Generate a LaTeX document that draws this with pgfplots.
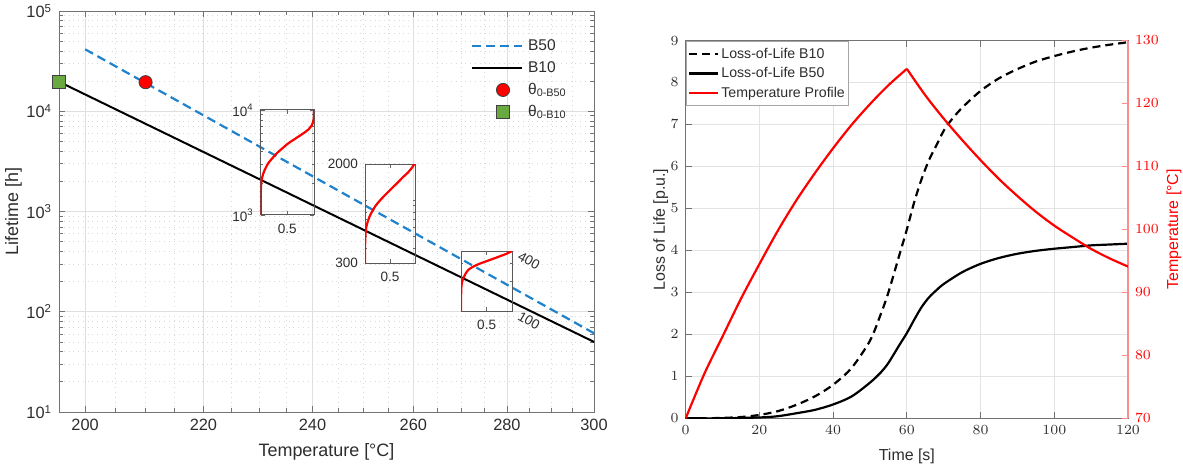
\documentclass[border=0pt]{standalone}
\usepackage{fontspec}
\setmainfont{Liberation Sans}
\usepackage{pgfplots}
\pgfplotsset{compat=1.18}

\definecolor{bblue}{RGB}{30,130,205}
\definecolor{sqgreen}{RGB}{106,168,64}
\definecolor{axgray}{RGB}{115,115,115}
\definecolor{txtgray}{RGB}{45,45,45}

\pgfplotsset{
  insetax/.style={
    anchor=south west, scale only axis,
    xmin=0, xmax=1,
    xtick={0,0.5,1}, xticklabels={,0.5,},
    tick align=inside, tick pos=both,
    axis line style={black!65, line width=0.5bp},
    tick style={black!60, line width=0.4bp},
    major tick length=2bp, minor tick length=1.2bp,
    ticklabel style={font=\fontsize{6.8}{8}\selectfont, text=txtgray},
    xticklabel style={yshift=-1bp},
  }
}

\begin{document}
\begin{tikzpicture}
\path[use as bounding box] (0,0) rectangle (591.5bp,-233bp);

% ---------------- left chart ----------------
\begin{axis}[
  at={(29.5bp,-206bp)}, anchor=south west,
  scale only axis, width=267.5bp, height=200.5bp,
  x coord trafo/.code={\pgfmathparse{-1000/(#1+273.15)}},
  x coord inv trafo/.code={\pgfmathparse{-1000/(#1)-273.15}},
  xmin=195.8, xmax=300,
  xtick={200,220,240,260,280,300},
  xticklabels={200,220,240,260,280,300},
  minor xtick={205,210,215,225,230,235,245,250,255,265,270,275,285,290,295},
  ymode=log, ymin=10, ymax=100000,
  ytick={10,100,1000,10000,100000},
  yticklabels={10\textsuperscript{1},10\textsuperscript{2},10\textsuperscript{3},10\textsuperscript{4},10\textsuperscript{5}},
  grid=both,
  major grid style={gray!25, line width=0.4bp},
  minor grid style={gray!30, dotted, line width=0.4bp},
  tick align=inside, tick pos=both,
  axis line style={axgray, line width=0.5bp},
  tick style={axgray, line width=0.4bp},
  major tick length=3bp, minor tick length=1.8bp,
  ticklabel style={font=\fontsize{8.2}{9.5}\selectfont, text=txtgray},
  xlabel={Temperature [°C]}, ylabel={Lifetime [h]},
  label style={font=\fontsize{9}{10.5}\selectfont, text=txtgray},
  xlabel style={at={(axis description cs:0.5,-0.1)}, anchor=center},
  ylabel style={at={(axis description cs:-0.085,0.5)}, anchor=center},
  legend style={at={(rel axis cs:0.758,0.95)}, anchor=north west, draw=none, fill=none,
    font=\fontsize{7.8}{9}\selectfont, text=txtgray, row sep=0.5bp,
    nodes={inner ysep=1bp, inner xsep=2.5bp, text height=6.5bp, text depth=2bp}},
  legend cell align=left,
  legend image code/.code={\draw[mark repeat=2,mark phase=2,#1] plot coordinates {(0bp,0bp)(15.5bp,0bp)(25bp,0bp)};},
]
\addplot[bblue, line width=1.1bp, dash pattern=on 4.5bp off 2.5bp] coordinates {(200,41500) (300,61)};
\addlegendentry{B50}
\addplot[black, line width=1bp] coordinates {(195.8,19700) (300,50)};
\addlegendentry{B10}
\addplot[only marks, mark=*, mark size=3.3bp, mark options={fill=red, draw=black!75, line width=0.4bp}] coordinates {(210,19500)};
\addlegendentry{θ\textsubscript{0-B50}}
\addplot[only marks, mark=square*, mark size=3.3bp, mark options={fill=sqgreen, draw=black!75, line width=0.4bp}] coordinates {(195.8,19700)};
\addlegendentry{θ\textsubscript{0-B10}}
\end{axis}

% inset 1
\begin{axis}[insetax, ymode=log, at={(130.35bp,-107.5bp)}, width=26.65bp, height=52.5bp,
  ymin=1000, ymax=10000, ytick={1000,10000},
  yticklabels={10\textsuperscript{3},10\textsuperscript{4}}]
\addplot[red, line width=1.1bp, smooth, tension=0.6] coordinates {
(0,1000) (0.002,1600) (0.01,2000) (0.03,2300) (0.07,2650) (0.14,3105) (0.22,3480) (0.30,3864)
(0.41,4330) (0.52,4819) (0.66,5380) (0.80,5998) (0.90,6550) (0.96,7150) (0.99,7900)
(1.0,8800) (1.0,10000)};
\end{axis}

% inset 2
\begin{axis}[insetax, ymode=log, at={(182.5bp,-131.65bp)}, width=25bp, height=49.65bp,
  ymin=300, ymax=2000, ytick={300,2000}, yticklabels={300,2000},
  minor ytick={400,500,600,700,800,900,1000}]
\addplot[red, line width=1.1bp, smooth, tension=0.6] coordinates {
(0,300) (0.002,420) (0.01,520) (0.03,610) (0.09,731) (0.2,885) (0.28,975) (0.37,1072)
(0.47,1180) (0.57,1297) (0.67,1425) (0.77,1570) (0.86,1700) (0.93,1841) (0.99,2000)};
\end{axis}

% inset 3
\begin{axis}[insetax, ymode=log, at={(230.5bp,-155.5bp)}, width=25.65bp, height=30bp,
  ymin=100, ymax=400, ytick={100,400}, yticklabels={100,400},
  minor ytick={200,300},
  yticklabel pos=right,
  yticklabel style={rotate=-30, anchor=west, xshift=0.5bp}]
\addplot[red, line width=1.1bp, smooth, tension=0.6] coordinates {
(0,100) (0.003,150) (0.015,190) (0.06,221) (0.14,258) (0.3,289) (0.43,307) (0.56,325)
(0.68,342) (0.79,359) (0.89,376) (0.97,394) (1.0,400)};
\end{axis}

% ---------------- right chart ----------------
\begin{axis}[
  at={(342.85bp,-209.15bp)}, anchor=south west,
  scale only axis, width=221.15bp, height=188.9bp,
  xmin=0, xmax=120, ymin=0, ymax=9,
  xtick={0,20,...,120}, ytick={0,1,...,9},
  grid=major, major grid style={gray!22, line width=0.4bp},
  tick align=inside, xtick pos=both, ytick pos=left,
  axis line style={axgray, line width=0.5bp},
  tick style={axgray, line width=0.4bp}, major tick length=3bp,
  ticklabel style={font=\fontsize{7}{8.5}\selectfont, text=txtgray},
  xlabel={Time [s]}, ylabel={Loss of Life [p.u.]},
  label style={font=\fontsize{8}{9.5}\selectfont, text=txtgray},
  xlabel style={at={(axis description cs:0.5,-0.1016)}, anchor=center},
  ylabel style={at={(axis description cs:-0.0563,0.5)}, anchor=center},
]
\addplot[black, line width=1.1bp, dash pattern=on 4bp off 2.5bp, smooth, tension=0.5] coordinates {
(0,0) (5,0.0) (10,0.01) (15,0.03) (20,0.08) (25,0.17) (30,0.32) (35,0.52) (40,0.80)
(45,1.2) (50,1.85) (53,2.5) (55,3.0) (58,3.9) (60,4.5) (62,5.15) (64,5.7) (66,6.15)
(68,6.5) (70,6.85) (72,7.1) (75,7.4) (80,7.8) (85,8.1) (90,8.32) (95,8.5) (100,8.63)
(105,8.74) (110,8.83) (115,8.9) (120,8.96)};
\addplot[black, line width=1.1bp, smooth, tension=0.5] coordinates {
(0,0) (10,0.0) (20,0.02) (25,0.05) (30,0.12) (35,0.2) (40,0.33) (45,0.52) (50,0.85)
(53,1.1) (55,1.32) (58,1.75) (60,2.03) (62,2.35) (64,2.65) (66,2.88) (68,3.05) (70,3.2)
(75,3.48) (80,3.68) (85,3.82) (90,3.92) (95,3.99) (100,4.04) (105,4.08) (110,4.12)
(115,4.14) (120,4.16)};
\node[anchor=south west, inner sep=0.5bp, yshift=0.8bp, font=\fontsize{7.5}{8.5}\selectfont, text=txtgray]
  at (rel axis cs:0,1) {×10\textsuperscript{-10}};
\end{axis}

\begin{axis}[
  at={(342.85bp,-209.15bp)}, anchor=south west,
  scale only axis, width=221.15bp, height=188.9bp,
  xmin=0, xmax=120, ymin=70, ymax=130,
  axis y line*=right, axis x line=none,
  ytick={70,80,...,130},
  tick align=inside,
  y axis line style={red!45, line width=0.6bp},
  ytick style={red!45, line width=0.4bp}, major tick length=3bp,
  yticklabel style={font=\fontsize{7}{8.5}\selectfont, text=red},
  ylabel={Temperature [°C]},
  ylabel style={font=\fontsize{8}{9.5}\selectfont, text=red,
    at={(axis description cs:1.104,0.5)}, anchor=center},
  legend style={at={(rel axis cs:0,1)}, anchor=north west, draw=gray!70, fill=white,
    line width=0.5bp,
    font=\fontsize{7.1}{8.5}\selectfont, text=txtgray, row sep=0pt,
    nodes={inner ysep=1bp, inner xsep=1bp, text height=6bp, text depth=1.8bp},
    inner xsep=1bp, inner ysep=1.5bp},
  legend cell align=left,
  legend image code/.code={\draw[#1] (0bp,0bp) -- (14.5bp,0bp);},
]
\addlegendimage{black, line width=1.1bp, dash pattern=on 4bp off 2.5bp}
\addlegendentry{Loss-of-Life B10}
\addlegendimage{black, line width=1.1bp}
\addlegendentry{Loss-of-Life B50}
\addplot[red, line width=1.1bp, smooth, tension=0.5] coordinates {
(0,70) (5,77.0) (10,83.0) (15,89.0) (20,94.5) (25,99.8) (30,104.6) (35,108.9)
(40,112.9) (45,116.6) (50,119.9) (55,122.9) (60,125.5)};
\addlegendentry{Temperature Profile}
\addplot[red, line width=1.1bp, smooth, tension=0.5, forget plot] coordinates {
(60,125.5) (65,121.3) (70,117.6) (75,114.2) (80,111.0) (85,108.0) (90,105.3) (95,102.8)
(100,100.6) (105,98.7) (110,96.9) (115,95.4) (120,94.1)};
\end{axis}
\end{tikzpicture}
\end{document}
